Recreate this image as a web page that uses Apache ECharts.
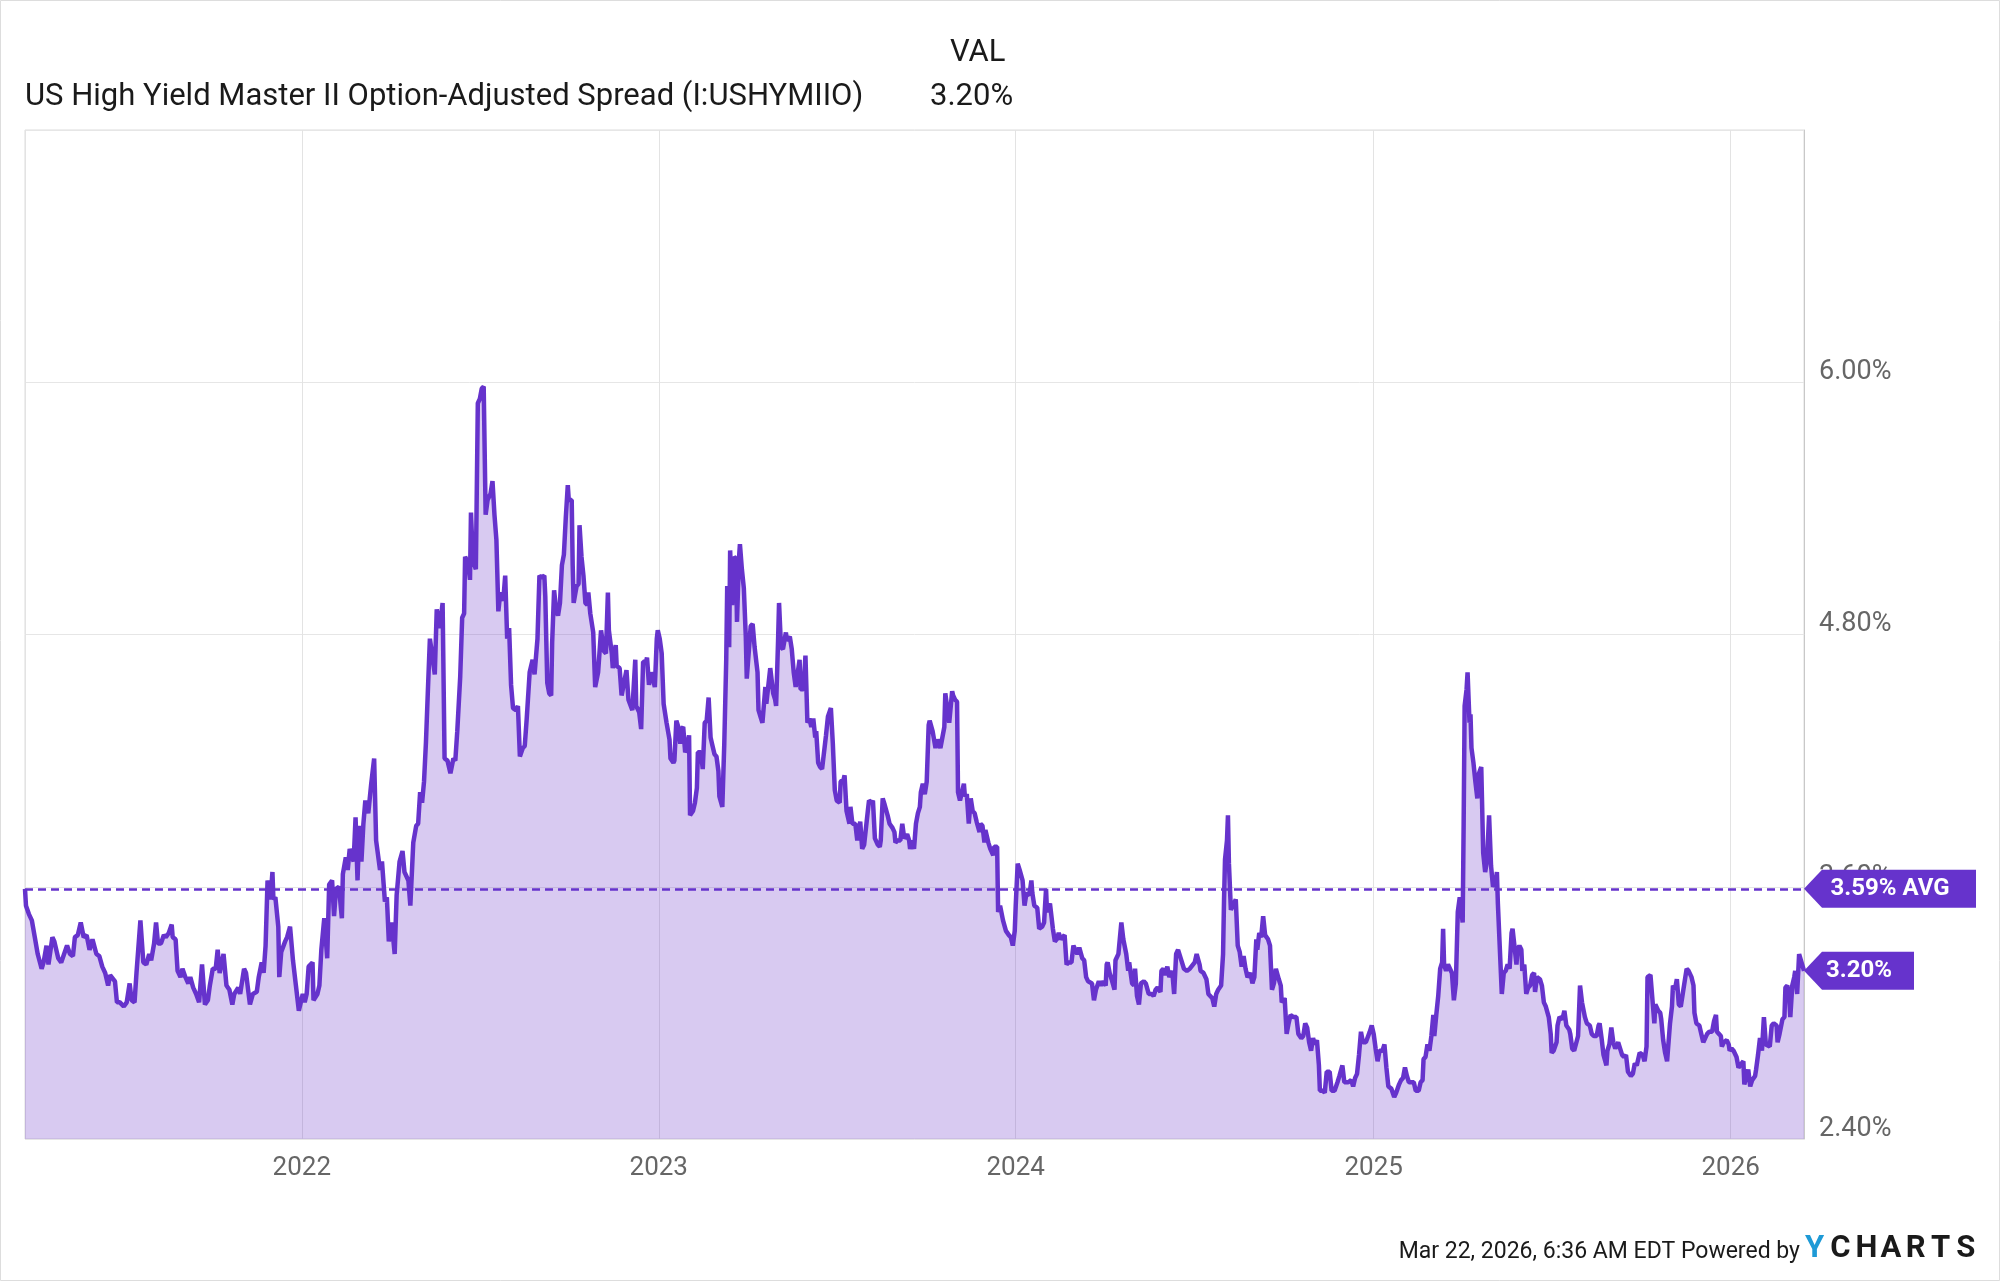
<!DOCTYPE html>
<html>
<head>
<meta charset="utf-8">
<script src="https://cdn.jsdelivr.net/npm/echarts@6/dist/echarts.min.js"></script>
<style>
  html, body { margin: 0; padding: 0; background: #fff; }
  #chart { width: 2000px; height: 1281px; }
</style>
</head>
<body>
<div id="chart"></div>
<script>
var chart = echarts.init(document.getElementById('chart'));

// first trading day shown on the chart, day offsets count from here
var startDate = [2021, 2, 24];
var avgValue = 3.59;
var latestValue = 3.20;
var seriesName = 'US High Yield Master II Option-Adjusted Spread (I:USHYMIIO)';

var dayOffsets = [
  0,1,4,7,10,13,17,19,22,24,28,30,34,37,40,43,46,49,51,54,57,60,63,66,69,73,76,79,82,85,87,92,94,97,
  101,104,107,109,112,114,118,121,124,127,129,132,134,136,139,142,144,147,150,151,154,156,159,161,164,
  167,169,172,175,178,181,184,187,189,192,195,197,199,203,206,209,212,214,218,220,224,226,230,233,237,
  239,242,244,246,248,251,253,254,256,259,260,262,266,268,271,274,277,280,284,286,288,290,294,295,299,301,
  303,306,309,311,314,316,318,321,324,325,328,330,332,334,336,338,340,342,344,346,348,351,354,357,359,
  363,365,368,370,372,375,378,380,383,386,388,392,394,397,400,402,404,406,408,410,412,414,417,419,421,
  424,427,429,432,435,438,440,442,445,447,449,450,453,455,456,458,461,463,465,467,469,471,473,476,478,
  480,482,484,486,489,491,493,495,497,499,502,504,506,509,511,513,516,519,521,524,526,528,531,
  532,534,536,538,539,541,543,545,547,549,551,553,555,556,559,560,561,564,566,567,569,571,573,575,576,
  578,581,583,586,588,589,592,594,596,597,600,601,604,605,608,610,612,615,617,619,621,624,625,628,630,
  632,635,636,638,640,642,644,646,647,649,651,653,656,659,660,663,664,666,668,670,671,673,675,676,679,
  680,683,685,687,688,691,693,695,697,699,701,703,705,707,709,710,713,715,717,718,720,721,723,725,727,
  728,730,731,733,735,737,738,740,742,744,746,749,750,752,754,757,758,760,762,763,765,767,768,770,771,
  773,775,778,779,782,784,786,788,790,792,793,796,798,800,802,804,806,808,809,811,813,
  815,817,819,821,824,826,828,830,833,834,837,838,840,843,844,846,849,851,853,854,856,858,860,862,863,
  866,867,869,872,874,875,877,879,882,884,887,889,890,892,895,897,899,902,904,905,907,909,911,913,915,
  916,918,920,922,924,925,928,930,931,933,936,938,940,941,943,945,948,949,951,953,954,956,958,960,961,
  963,965,967,969,971,973,976,977,979,981,982,985,987,990,991,994,995,997,999,1000,1003,1006,1008,1010,
  1012,1013,1015,1017,1020,1022,1024,1027,1029,1030,1032,1035,1037,1040,1042,1044,1045,1048,1051,1053,
  1055,1057,1059,1061,1063,1065,1067,1070,1072,1074,1076,1078,1081,1083,1085,1087,
  1091,1093,1095,1098,1100,1102,1105,1106,1107,1109,1111,1114,1115,1118,1121,1123,1126,1128,1129,1132,
  1134,1135,1137,1139,1141,1144,1146,1149,1152,1154,1156,1158,1161,1162,1164,1166,1168,1170,1173,1175,
  1177,1179,1181,1183,1185,1188,1191,1193,1196,1198,1201,1202,1205,1208,1210,1212,1214,1216,1218,1220,
  1223,1225,1226,1227,1229,1230,1231,1233,1235,1238,1240,1242,1244,1246,1248,1250,1253,1255,1257,1259,
  1260,1262,1264,1266,1268,1271,1273,1275,1277,1279,1282,1284,1285,1288,1290,1292,1294,1297,1300,1302,
  1305,1307,1309,1311,1313,1315,1317,1319,1321,1323,1324,1327,1329,1331,1334,1336,1339,1342,1344,1347,
  1349,1351,1353,1356,1358,1360,1362,1364,1366,1368,1371,1373,1375,1377,1379,1381,1383,1385,
  1388,1390,1392,1394,1397,1400,1402,1405,1407,1409,1411,1413,1415,1417,1420,1422,1425,1427,1429,1430,
  1432,1434,1436,1438,1440,1441,1443,1445,1447,1449,1450,1451,1453,1455,1457,1459,1461,1463,1464,1465,
  1467,1468,1470,1471,1472,1474,1475,1477,1478,1479,1481,1483,1485,1486,1489,1491,1493,1495,1497,1499,
  1501,1504,1505,1506,1508,1510,1512,1514,1516,1518,1520,1521,1523,1525,1526,1528,1530,1531,1533,1535,
  1537,1539,1541,1543,1544,1546,1549,1551,1553,1555,1558,1560,1561,1563,1566,1567,1569,1572,1574,1576,
  1579,1580,1582,1584,1586,1588,1590,1592,1595,1597,1600,1602,1604,1607,1609,1610,1612,1614,1617,1618,
  1620,1622,1624,1626,1629,1631,1633,1635,1637,1639,1642,1644,1646,1648,
  1651,1654,1656,1658,1659,1662,1664,1666,1667,1670,1672,1673,1675,1677,1679,1682,1684,1685,1687,1689,
  1691,1693,1695,1697,1699,1701,1704,1706,1707,1709,1712,1714,1716,1718,1720,1722,1725,1727,1729,1730,
  1732,1734,1735,1737,1740,1742,1743,1745,1747,1750,1752,1754,1757,1758,1760,1762,1764,1766,1769,1770,
  1772,1774,1776,1778,1780,1782,1784,1786,1788,1791,1792,1794,1797,1799,1800,1802,1804,1805,1807,1809,
  1810,1812,1814,1816,1819
];

var spreadValues = [
  3.59,3.51,3.47,3.44,3.36,3.28,3.21,3.24,3.32,3.23,3.36,3.34,3.26,3.24,3.28,3.32,3.28,3.27,3.36,3.37,
  3.43,3.36,3.37,3.30,3.35,3.28,3.27,3.22,3.19,3.13,3.18,3.15,3.05,3.05,3.03,3.05,3.14,3.06,3.05,3.19,
  3.44,3.24,3.23,3.28,3.25,3.33,3.43,3.33,3.33,3.37,3.36,3.38,3.42,3.36,3.35,3.20,3.17,3.21,3.17,3.14,
  3.17,3.12,3.09,3.05,3.23,3.04,3.06,3.13,3.21,3.21,3.30,3.19,3.28,3.13,3.11,3.04,3.09,3.12,3.09,3.21,
  3.19,3.04,3.09,3.10,3.17,3.24,3.19,3.32,3.63,3.54,3.67,3.54,3.55,3.41,3.17,3.29,3.34,3.36,3.41,3.25,
  3.13,3.01,3.09,3.05,3.09,3.22,3.24,3.06,3.09,3.13,
  3.30,3.45,3.26,3.61,3.63,3.46,3.59,3.60,3.45,3.66,3.74,3.68,3.78,3.78,3.72,3.93,3.63,3.89,3.72,3.90,
  4.01,3.95,4.09,4.21,3.82,3.68,3.72,3.53,3.55,3.34,3.43,3.28,3.56,3.72,3.77,3.67,3.63,3.51,3.81,3.89,
  3.90,4.05,4.00,4.10,4.29,4.54,4.78,4.68,4.61,4.92,4.83,4.95,4.21,4.20,4.14,4.21,4.20,4.34,4.60,4.88,
  4.90,5.17,5.14,5.06,5.38,5.15,5.11,5.90,5.92,5.97,5.98,5.37,5.44,5.47,5.53,5.37,5.25,4.91,5.00,4.96,
  5.08,4.78,4.83,4.56,4.45,4.44,4.46,4.22,4.26,4.27,4.40,4.62,4.68,4.61,4.78,5.08,5.07,5.08,
  4.98,4.57,4.52,4.51,4.76,5.01,4.92,4.89,4.95,5.13,5.18,5.36,5.51,5.44,5.44,5.13,4.95,5.03,5.04,5.32,
  5.17,5.08,4.95,4.94,5.00,4.90,4.81,4.55,4.62,4.62,4.82,4.72,4.71,5.00,4.82,4.71,4.64,4.75,4.65,4.64,
  4.51,4.51,4.63,4.49,4.49,4.44,4.68,4.46,4.43,4.35,4.67,4.67,4.69,4.56,4.62,4.59,4.55,4.78,4.82,4.78,
  4.71,4.47,4.38,4.30,4.21,4.19,4.20,4.39,4.36,4.28,4.35,4.36,4.24,4.25,4.32,3.94,3.96,4.00,4.07,4.24,
  4.24,4.16,4.38,4.39,4.50,4.31,4.27,4.23,4.22,4.15,4.03,3.98,4.28,4.68,5.03,4.74,5.20,4.94,5.17,5.16,
  4.86,5.16,5.23,5.11,5.02,4.79,4.59,4.59,4.84,4.85,4.74,4.62,4.44,4.41,4.38,4.55,4.47,4.47,4.64,4.64,
  4.52,4.49,4.46,4.77,4.95,4.74,4.73,4.81,4.77,4.79,4.73,4.62,4.55,4.55,4.68,4.54,4.54,4.70,4.38,4.40,
  4.36,4.40,4.31,4.34,4.19,4.17,
  4.16,4.16,4.32,4.41,4.45,4.28,4.06,4.01,4.00,4.10,4.11,4.13,3.96,3.90,3.98,3.90,3.90,3.82,3.82,3.91,
  3.78,3.80,3.80,3.97,4.01,4.00,4.01,3.83,3.80,3.79,3.82,4.02,3.99,3.94,3.90,3.88,3.86,3.81,3.82,3.82,
  3.90,3.83,3.85,3.82,3.78,3.82,3.78,3.90,3.95,3.98,4.05,4.09,4.04,4.10,4.37,4.39,4.34,4.34,4.26,4.30,
  4.26,4.26,4.36,4.52,4.52,4.38,4.53,4.51,4.49,4.48,4.05,4.01,4.05,4.09,4.03,4.04,3.90,4.02,3.96,3.95,
  3.91,3.86,3.90,3.89,3.81,3.87,3.81,3.78,3.75,3.79,3.79,3.48,3.51,3.51,3.44,3.39,3.37,3.36,3.32,3.39,
  3.51,3.71,3.68,3.63,3.51,3.57,3.56,3.63,3.57,3.51,3.50,3.40,3.41,3.43,3.59,3.48,3.52,3.40,3.34,3.35,
  3.38,3.35,3.35,3.37,3.23,3.24,3.24,3.32,3.32,3.28,3.31,3.26,3.25,3.17,3.15,
  3.14,3.06,3.11,3.15,3.13,3.15,3.13,3.23,3.24,3.19,3.16,3.11,3.25,3.28,3.43,3.35,3.28,3.20,3.24,3.14,
  3.13,3.21,3.08,3.04,3.14,3.15,3.14,3.09,3.09,3.08,3.11,3.12,3.10,3.20,3.21,3.18,3.22,3.17,3.20,3.09,
  3.28,3.30,3.27,3.24,3.21,3.20,3.21,3.21,3.24,3.28,3.23,3.20,3.19,3.16,3.09,3.09,3.07,3.03,3.09,3.11,
  3.13,3.28,3.54,3.73,3.82,3.94,3.71,3.49,3.51,3.54,3.32,3.29,3.22,3.27,3.21,3.17,3.19,3.14,3.17,3.35,
  3.30,3.38,3.36,3.46,3.37,3.35,3.32,3.11,3.14,3.21,3.16,3.13,3.05,3.07,2.90,2.95,2.99,2.98,2.98,2.90,
  2.88,2.89,2.95,2.93,2.86,2.82,2.88,2.85,2.87,2.75,2.63,2.63,2.62,2.72,2.72,2.63,2.63,2.67,2.70,2.75,
  2.67,2.67,2.67,2.68,2.65,2.69,2.71,2.80,2.91,2.86,2.86,2.86,2.91,2.94,2.90,2.83,2.77,2.82,
  2.82,2.85,2.74,2.65,2.64,2.60,2.62,2.66,2.68,2.69,2.74,2.70,2.67,2.67,2.67,2.63,2.63,2.67,2.68,2.78,
  2.79,2.85,2.82,2.89,2.99,2.89,2.99,3.08,3.21,3.24,3.40,3.23,3.20,3.23,3.21,3.19,3.06,3.14,3.31,3.48,
  3.55,3.55,3.43,3.90,4.46,4.54,4.62,4.38,4.42,4.26,4.19,4.10,4.02,4.13,4.17,3.76,3.67,3.73,3.94,3.70,
  3.60,3.63,3.67,3.52,3.52,3.09,3.19,3.20,3.23,3.21,3.38,3.40,3.40,3.23,3.30,3.32,3.30,3.20,3.23,3.09,
  3.12,3.13,3.18,3.19,3.10,3.17,3.16,3.13,3.05,3.03,2.98,2.90,2.81,2.82,2.86,2.94,2.98,2.97,3.01,2.94,
  2.92,2.90,2.83,2.82,2.82,2.89,3.13,3.05,2.98,2.95,2.94,2.90,2.89,2.89,2.94,2.95,2.88,2.80,2.75,2.82,
  2.85,2.93,2.86,2.83,2.86,2.83,2.80,2.79,2.80,2.72,2.70,2.71,2.76,2.75,
  2.81,2.80,2.77,2.84,3.17,3.18,3.18,2.95,3.04,3.01,3.00,2.97,2.87,2.81,2.77,2.95,3.03,3.13,3.11,3.16,
  3.04,3.03,3.09,3.09,3.21,3.20,3.17,3.13,3.00,2.95,2.94,2.90,2.86,2.88,2.90,2.91,2.91,2.96,2.99,2.91,
  2.90,2.89,2.84,2.86,2.87,2.85,2.82,2.83,2.82,2.79,2.74,2.74,2.77,2.66,2.66,2.73,2.65,2.68,2.70,2.73,
  2.80,2.88,2.82,2.98,2.85,2.85,2.84,2.94,2.95,2.94,2.86,2.90,2.97,2.98,3.12,3.13,3.06,2.98,3.13,3.17,
  3.20,3.09,3.28,3.28,3.20
];

var yTicks = { min: 2.4, max: 7.2, step: 1.2 };

function dayToTime(d) {
  return new Date(startDate[0], startDate[1], startDate[2] + d).getTime();
}

var seriesData = dayOffsets.map(function (d, i) {
  return [dayToTime(d), spreadValues[i]];
});
var startTs = dayToTime(0);
var endTs = dayToTime(dayOffsets[dayOffsets.length - 1]);

var purple = '#6633cc';
var grayText = '#666666';
var font = 'Roboto';
var tagPath = function (w) {
  return 'path://M0,19L18,0L' + w + ',0L' + w + ',38L18,38Z';
};

var option = {
  backgroundColor: '#ffffff',
  animation: false,
  grid: {
    left: 25,
    right: 196,
    top: 130,
    bottom: 142,
    show: true,
    borderColor: '#dddddd',
    borderWidth: 1
  },
  xAxis: {
    type: 'time',
    min: startTs,
    max: endTs,
    minInterval: 365 * 86400000,
    maxInterval: 366 * 86400000,
    axisLine: { show: false },
    axisTick: { show: false },
    splitLine: { show: true, lineStyle: { color: '#e3e3e3', width: 1 } },
    axisLabel: {
      color: grayText,
      fontSize: 26,
      fontFamily: font,
      margin: 16,
      formatter: function (v) {
        var d = new Date(v);
        return (d.getMonth() === 0 && d.getDate() === 1) ? String(d.getFullYear()) : '';
      }
    }
  },
  yAxis: {
    type: 'value',
    position: 'right',
    min: yTicks.min,
    max: yTicks.max,
    interval: yTicks.step,
    axisLine: { show: true, lineStyle: { color: '#c8c8c8' } },
    axisTick: { show: false },
    splitLine: { lineStyle: { color: '#e6e6e6' } },
    axisLabel: {
      showMaxLabel: false,
      color: grayText,
      fontSize: 27,
      fontFamily: font,
      margin: 15,
      verticalAlign: 'bottom',
      lineHeight: 20,
      formatter: function (v) { return v.toFixed(2) + '%'; }
    }
  },
  series: [{
    name: seriesName,
    type: 'line',
    data: seriesData,
    showSymbol: false,
    symbol: 'none',
    lineStyle: { color: purple, width: 4.5 },
    areaStyle: { color: 'rgba(103, 52, 201, 0.26)', opacity: 1, origin: 'start' },
    markLine: {
      silent: true,
      symbol: 'none',
      label: { show: false },
      lineStyle: { color: purple, type: [8, 5], width: 2.5 },
      data: [{ yAxis: avgValue }]
    },
    markPoint: {
      silent: true,
      itemStyle: { color: purple },
      label: {
        show: true,
        position: 'inside',
        color: '#ffffff',
        fontWeight: 'bold',
        fontSize: 24,
        fontFamily: font
      },
      data: [
        {
          coord: [endTs, avgValue],
          symbol: tagPath(172),
          symbolSize: [172, 38],
          symbolOffset: ['50%', 0],
          label: { formatter: avgValue.toFixed(2) + '% AVG' }
        },
        {
          coord: [endTs, latestValue],
          symbol: tagPath(110),
          symbolSize: [110, 38],
          symbolOffset: ['50%', 0],
          label: { formatter: latestValue.toFixed(2) + '%' }
        }
      ]
    }
  }],
  graphic: [
    {
      type: 'rect',
      silent: true,
      shape: { x: 0.5, y: 0.5, width: 1999, height: 1280 },
      style: { fill: 'none', stroke: '#dddddd', lineWidth: 1 }
    },
    {
      type: 'text', left: 1020 - 70, top: 38,
      style: { text: 'VAL', x: 70, textAlign: 'right', fill: '#1a1a1a', font: '31px Roboto' }
    },
    {
      type: 'text', left: 25, top: 82,
      style: { text: seriesName, fill: '#1a1a1a', font: '31px Roboto' }
    },
    {
      type: 'text', left: 1020 - 90, top: 82,
      style: { text: latestValue.toFixed(2) + '%', x: 90, textAlign: 'right', fill: '#1a1a1a', font: '31px Roboto' }
    },
    {
      type: 'text', right: 200, top: 1241,
      style: { text: 'Mar 22, 2026, 6:36 AM EDT Powered by', fill: '#1a1a1a', font: '23px Roboto' }
    }
  ]
};

// YCHARTS wordmark: each letter centred in its own cell
'YCHARTS'.split('').forEach(function (ch, i) {
  option.graphic.push({
    type: 'text',
    left: 1805 + i * 25.2,
    top: 1234,
    style: {
      text: ch,
      x: 12.6,
      textAlign: 'center',
      fill: i === 0 ? '#1e9ad6' : '#1a1a1a',
      font: 'bold 31px Roboto'
    }
  });
});

chart.setOption(option);
</script>
</body>
</html>
